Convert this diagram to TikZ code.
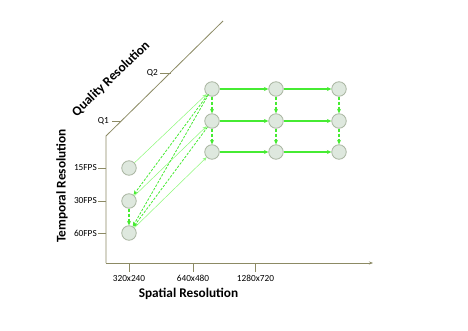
\documentclass[tikz,border=0pt]{standalone}
\usepackage{fontspec}
\setmainfont{Carlito}
\usetikzlibrary{arrows.meta}
\definecolor{axiscol}{RGB}{140,138,100}
\definecolor{nodefill}{RGB}{222,232,222}
\definecolor{nodedraw}{RGB}{170,182,162}
\definecolor{arrgreen}{RGB}{70,235,50}
\definecolor{thingreen}{RGB}{140,250,120}
\tikzset{
  axis/.style={draw=axiscol, line width=0.8pt},
  lay/.style={circle, fill=nodefill, draw=nodedraw, line width=0.8pt, minimum size=14.5pt, inner sep=0pt},
  ticklab/.style={font=\fontsize{9.3}{10}\selectfont, inner sep=1pt},
  axtitle/.style={font=\bfseries\fontsize{13.3}{15}\selectfont, inner sep=0pt},
  hsolid/.style={draw=arrgreen, line width=1.1pt, -{Stealth[length=4.5pt,width=4pt]}},
  vdash/.style={draw=arrgreen, line width=1.1pt, dash pattern=on 3pt off 2pt, -{Stealth[length=4.5pt,width=4pt]}},
  thin/.style={draw=thingreen, line width=0.5pt, -{Stealth[length=4pt,width=3.5pt]}},
  ddash/.style={draw=arrgreen, line width=0.8pt, dash pattern=on 2.5pt off 1.5pt, -{Stealth[length=4.5pt,width=4pt]}}
}
\begin{document}
\begin{tikzpicture}[x=1pt,y=-1pt]
\useasboundingbox[fill=white] (0,0) rectangle (468,331);
% axes
\coordinate (O) at (106,263);
\coordinate (Top) at (106,136);
\coordinate (Diag) at (223,21);
\coordinate (Xend) at (373,263);
\draw[axis] (Diag) -- (Top) -- (O);
\draw[axis, -{Stealth[length=4pt,width=3pt]}] (O) -- (Xend);
% quality ticks
\coordinate (q2a) at (160,73); \coordinate (q2b) at (170.7,73);
\coordinate (q1a) at (112,121); \coordinate (q1b) at (121.4,121);
\draw[axis] (q2a) -- (q2b);
\draw[axis] (q1a) -- (q1b);
\node[ticklab, anchor=east] (q2l) at ([xshift=-1pt]q2a) {Q2};
\node[ticklab, anchor=east] (q1l) at ([xshift=-2pt]q1a) {Q1};
% temporal ticks
\foreach \y/\t [count=\i] in {168/15FPS,201/30FPS,233/60FPS}{
  \coordinate (ta\i) at (98,\y); \coordinate (tb\i) at (106,\y);
  \draw[axis] (ta\i) -- (tb\i);
  \node[ticklab, anchor=east] (tl\i) at (ta\i) {\t};
}
% spatial ticks
\foreach \x/\t [count=\i] in {129/320x240,193/640x480,255.5/1280x720}{
  \coordinate (sa\i) at (\x,263); \coordinate (sb\i) at (\x,272);
  \draw[axis] (sa\i) -- (sb\i);
  \node[ticklab] (sl\i) at (\x,278.5) {\t};
}
% axis titles
\node[axtitle] (spt) at (188.5,294) {Spatial Resolution};
\node[axtitle, rotate=90] (tpt) at (62,186) {Temporal Resolution};
\node[axtitle, rotate=44] (qlt) at (111,79) {Quality Resolution};
% nodes
\node[lay] (L1) at (129,168) {};
\node[lay] (L2) at (129,201) {};
\node[lay] (L3) at (129,233) {};
\foreach \x [count=\c] in {212,276,339}{
  \foreach \y [count=\r] in {89,121,152}{
    \node[lay] (g\r\c) at (\x,\y) {};
  }
}
% grid edges
\foreach \rr in {1,2,3}{
  \draw[hsolid] (g\rr1) -- (g\rr2);
  \draw[hsolid] (g\rr2) -- (g\rr3);
}
\foreach \cc in {1,2,3}{
  \draw[vdash] (g1\cc) -- (g2\cc);
  \draw[vdash] (g2\cc) -- (g3\cc);
}
\draw[vdash] (L2) -- (L3);
% diagonal edges
\draw[thin] (L1) -- (g11);
\draw[thin] (L2) -- (g21);
\draw[thin] (L3) -- (g31);
\draw[ddash] (g11) -- (L2);
\draw[ddash] ([xshift=2pt]g11.south west) -- (L3);
\draw[ddash] (g21) -- (L3);
\end{tikzpicture}
\end{document}
